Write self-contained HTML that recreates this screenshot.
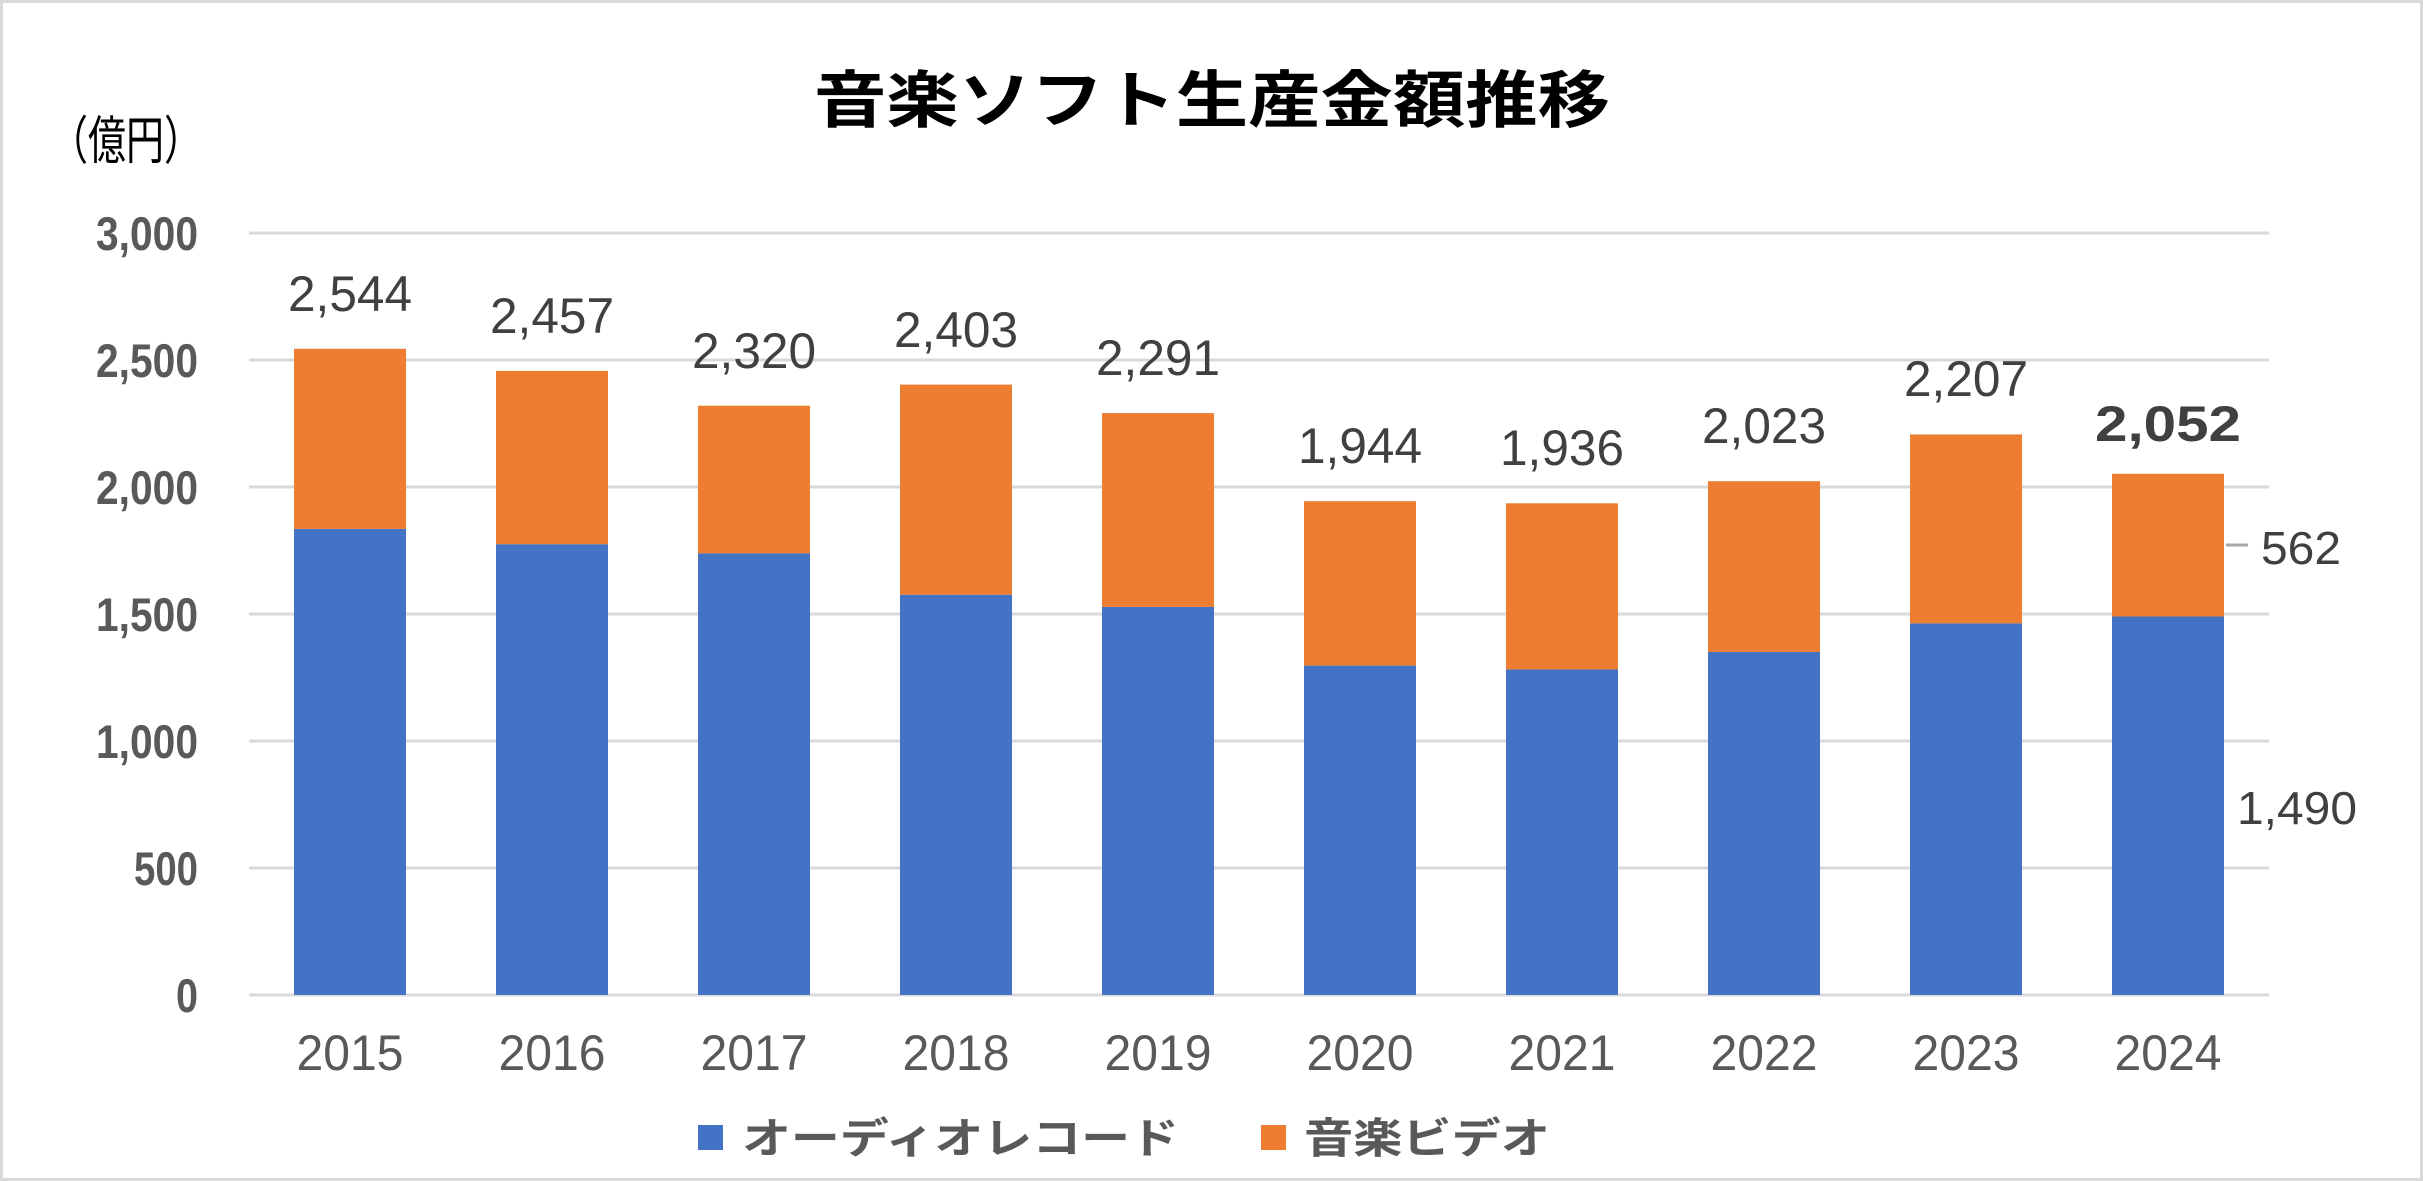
<!DOCTYPE html>
<html><head><meta charset="utf-8"><style>
html,body{margin:0;padding:0;background:#fff;}
svg{display:block;}
text{font-family:"Liberation Sans","Noto Sans CJK JP",sans-serif;}
</style></head><body>
<svg width="2423" height="1181" viewBox="0 0 2423 1181" xmlns="http://www.w3.org/2000/svg">
<rect x="1.5" y="1.5" width="2420" height="1178" fill="#fff" stroke="#d9d9d9" stroke-width="3"/>
<text x="1212" y="122" text-anchor="middle" font-size="62" font-weight="bold" fill="#000" textLength="796" lengthAdjust="spacingAndGlyphs">音楽ソフト生産金額推移</text>
<text x="50" y="159" font-size="52" fill="#000" textLength="152" lengthAdjust="spacingAndGlyphs">（億円）</text>
<g stroke="#d9d9d9" stroke-width="3">
<line x1="249" x2="2269" y1="233" y2="233"/>
<line x1="249" x2="2269" y1="360" y2="360"/>
<line x1="249" x2="2269" y1="487" y2="487"/>
<line x1="249" x2="2269" y1="614" y2="614"/>
<line x1="249" x2="2269" y1="741" y2="741"/>
<line x1="249" x2="2269" y1="868" y2="868"/>
<line x1="249" x2="2269" y1="995" y2="995"/>
</g>
<g font-size="47" font-weight="bold" fill="#595959" text-anchor="end">
<text x="198" y="250" textLength="102" lengthAdjust="spacingAndGlyphs">3,000</text>
<text x="198" y="377" textLength="102" lengthAdjust="spacingAndGlyphs">2,500</text>
<text x="198" y="504" textLength="102" lengthAdjust="spacingAndGlyphs">2,000</text>
<text x="198" y="631" textLength="102" lengthAdjust="spacingAndGlyphs">1,500</text>
<text x="198" y="758" textLength="102" lengthAdjust="spacingAndGlyphs">1,000</text>
<text x="198" y="885" textLength="64" lengthAdjust="spacingAndGlyphs">500</text>
<text x="198" y="1012" textLength="22" lengthAdjust="spacingAndGlyphs">0</text>
</g>
<g fill="#4472c4">
<rect x="294" y="528.9" width="112" height="466.1"/>
<rect x="496" y="544.2" width="112" height="450.8"/>
<rect x="698" y="553.3" width="112" height="441.7"/>
<rect x="900" y="594.7" width="112" height="400.3"/>
<rect x="1102" y="606.9" width="112" height="388.1"/>
<rect x="1304" y="665.6" width="112" height="329.4"/>
<rect x="1506" y="669.4" width="112" height="325.6"/>
<rect x="1708" y="651.9" width="112" height="343.1"/>
<rect x="1910" y="623.4" width="112" height="371.6"/>
<rect x="2112" y="616.5" width="112" height="378.5"/>
</g>
<g fill="#ed7d31">
<rect x="294" y="348.8" width="112" height="180.1"/>
<rect x="496" y="370.9" width="112" height="173.3"/>
<rect x="698" y="405.7" width="112" height="147.6"/>
<rect x="900" y="384.6" width="112" height="210.1"/>
<rect x="1102" y="413.1" width="112" height="193.8"/>
<rect x="1304" y="501.2" width="112" height="164.4"/>
<rect x="1506" y="503.3" width="112" height="166.1"/>
<rect x="1708" y="481.2" width="112" height="170.7"/>
<rect x="1910" y="434.4" width="112" height="189.0"/>
<rect x="2112" y="473.8" width="112" height="142.7"/>
</g>
<g font-size="50" fill="#404040" text-anchor="middle">
<text x="350" y="311" textLength="124" lengthAdjust="spacingAndGlyphs">2,544</text>
<text x="552" y="333" textLength="124" lengthAdjust="spacingAndGlyphs">2,457</text>
<text x="754" y="368" textLength="124" lengthAdjust="spacingAndGlyphs">2,320</text>
<text x="956" y="347" textLength="124" lengthAdjust="spacingAndGlyphs">2,403</text>
<text x="1158" y="375" textLength="124" lengthAdjust="spacingAndGlyphs">2,291</text>
<text x="1360" y="463" textLength="124" lengthAdjust="spacingAndGlyphs">1,944</text>
<text x="1562" y="465" textLength="124" lengthAdjust="spacingAndGlyphs">1,936</text>
<text x="1764" y="443" textLength="124" lengthAdjust="spacingAndGlyphs">2,023</text>
<text x="1966" y="396" textLength="124" lengthAdjust="spacingAndGlyphs">2,207</text>
</g>
<g font-size="50" fill="#595959" text-anchor="middle">
<text x="350" y="1070" textLength="107" lengthAdjust="spacingAndGlyphs">2015</text>
<text x="552" y="1070" textLength="107" lengthAdjust="spacingAndGlyphs">2016</text>
<text x="754" y="1070" textLength="107" lengthAdjust="spacingAndGlyphs">2017</text>
<text x="956" y="1070" textLength="107" lengthAdjust="spacingAndGlyphs">2018</text>
<text x="1158" y="1070" textLength="107" lengthAdjust="spacingAndGlyphs">2019</text>
<text x="1360" y="1070" textLength="107" lengthAdjust="spacingAndGlyphs">2020</text>
<text x="1562" y="1070" textLength="107" lengthAdjust="spacingAndGlyphs">2021</text>
<text x="1764" y="1070" textLength="107" lengthAdjust="spacingAndGlyphs">2022</text>
<text x="1966" y="1070" textLength="107" lengthAdjust="spacingAndGlyphs">2023</text>
<text x="2168" y="1070" textLength="107" lengthAdjust="spacingAndGlyphs">2024</text>
</g>
<text x="2168" y="441" text-anchor="middle" font-size="50" font-weight="bold" fill="#404040" textLength="146" lengthAdjust="spacingAndGlyphs">2,052</text>
<line x1="2226" x2="2248" y1="545" y2="545" stroke="#a6a6a6" stroke-width="3"/>
<text x="2261" y="564" font-size="46" fill="#404040" textLength="80" lengthAdjust="spacingAndGlyphs">562</text>
<text x="2237" y="824" font-size="46" fill="#404040" textLength="120" lengthAdjust="spacingAndGlyphs">1,490</text>
<rect x="698" y="1125" width="25" height="25" fill="#4472c4"/>
<text x="742" y="1153" font-size="42" font-weight="bold" fill="#595959" textLength="437" lengthAdjust="spacingAndGlyphs">オーディオレコード</text>
<rect x="1261" y="1125" width="25" height="25" fill="#ed7d31"/>
<text x="1304" y="1153" font-size="42" font-weight="bold" fill="#595959" textLength="246" lengthAdjust="spacingAndGlyphs">音楽ビデオ</text>
</svg>
</body></html>
